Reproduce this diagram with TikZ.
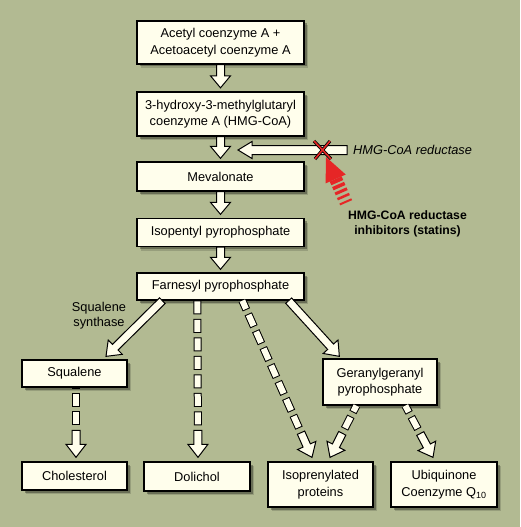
\documentclass[tikz,border=0pt]{standalone}
\usepackage{fontspec}
\setmainfont{Liberation Sans}
\usetikzlibrary{calc,shadows}
\definecolor{bg}{RGB}{178,186,146}
\definecolor{cream}{RGB}{255,254,236}
\definecolor{redarr}{RGB}{230,38,38}
\tikzset{
  box/.style={draw=black, line width=1.3pt, fill=cream, inner sep=0pt, align=center,
    font=\fontsize{12.8}{16.5}\selectfont,
    drop shadow={shadow xshift=4pt, shadow yshift=-4pt, fill=black, opacity=0.15},
    drop shadow={shadow xshift=2.5pt, shadow yshift=-2.5pt, fill=black, opacity=0.3}},
  arr/.style={draw=black, line width=1pt, fill=cream, line join=miter},
  dashout/.style={draw=black, line width=8pt, dash pattern=on 14pt off 4.5pt},
  dashin/.style={draw=cream, line width=6pt, dash pattern=on 12pt off 6.5pt, dash phase=17.5pt},
  lbl/.style={inner sep=0pt, align=center, font=\fontsize{12.8}{15}\selectfont},
}
% #1 start, #2 tip, #3 shaft half width, #4 head half width, #5 head length
\newcommand\blockarrow[5]{%
  \coordinate (hA) at ($(#2)!#5!(#1)$);
  \filldraw[arr] ($(#1)!#3!90:(#2)$) -- ($(hA)!#3!90:(#2)$) -- ($(hA)!#4!90:(#2)$) -- (#2)
    -- ($(hA)!#4!-90:(#2)$) -- ($(hA)!#3!-90:(#2)$) -- ($(#1)!#3!-90:(#2)$) -- cycle;}
% #1 start, #2 tip
\newcommand\dasharrow[2]{%
  \coordinate (hB) at ($(#2)!27pt!(#1)$);
  \coordinate (hC) at ($(#2)!32pt!(#1)$);
  \draw[dashout] (hC) -- (#1);
  \draw[dashin] (hC) -- (#1);
  \blockarrow{hB}{#2}{4pt}{10pt}{13pt}}
\begin{document}
\begin{tikzpicture}[x=1pt,y=-1pt]
\fill[bg] (0,0) rectangle (520,527);
\useasboundingbox (0,0) rectangle (520,527);

% main chain
\node[box, minimum width=167pt, minimum height=43pt] (b1) at (220.5,42.5) {Acetyl coenzyme A +\\Acetoacetyl coenzyme A};
\node[box, minimum width=167pt, minimum height=44pt] (b2) at (220.5,114) {3-hydroxy-3-methylglutaryl\\coenzyme A (HMG-CoA)};
\node[box, minimum width=167pt, minimum height=29pt] (b3) at (220.5,176.5) {Mevalonate};
\node[box, minimum width=167pt, minimum height=28pt] (b4) at (220.5,232.5) {Isopentyl pyrophosphate};
\node[box, minimum width=167pt, minimum height=27pt] (b5) at (220.5,286.5) {Farnesyl pyrophosphate};

% branches
\node[box, minimum width=105pt, minimum height=27pt] (sq) at (74.5,373.5) {Squalene};
\node[box, minimum width=114pt, minimum height=46pt] (gg) at (380,382) {Geranylgeranyl\\pyrophosphate};
\node[box, minimum width=105pt, minimum height=28pt] (chol) at (74.5,476) {Cholesterol};
\node[box, minimum width=106pt, minimum height=29pt] (dol) at (197,476.5) {Dolichol};
\node[box, minimum width=105pt, minimum height=45pt] (ip) at (320.5,484.5) {Isoprenylated\\proteins};
\node[box, minimum width=106pt, minimum height=45pt] (ubi) at (444,484.5) {Ubiquinone\\Coenzyme Q\textsubscript{10}};

% labels
\node[lbl, anchor=west, font=\fontsize{12.8}{15}\selectfont\itshape] (enz) at (353,150) {HMG-CoA reductase};
\node[lbl, font=\fontsize{12.2}{14.5}\selectfont\bfseries] (inh) at (407.5,224) {HMG-CoA reductase\\inhibitors (statins)};
\node[lbl] (ss) at (99,315.5) {Squalene\\synthase};

% vertical solid arrows
\coordinate (t2) at ($(b2.north)+(0,-3.5)$);
\coordinate (t3) at ($(b3.north)+(0,-3)$);
\coordinate (t4) at ($(b4.north)+(0,-3.5)$);
\coordinate (t5) at ($(b5.north)+(0,-3)$);
\blockarrow{b1.south}{t2}{4pt}{10pt}{12pt}
\blockarrow{b2.south}{t3}{4pt}{10pt}{12pt}
\blockarrow{b3.south}{t4}{4pt}{10pt}{12pt}
\blockarrow{b4.south}{t5}{4pt}{10pt}{12pt}

% HMG-CoA reductase arrow
\coordinate (rt) at ($(enz.west)+(-6,0)$);
\coordinate (rh) at (238,150);
\blockarrow{rt}{rh}{4.5pt}{8.5pt}{14pt}

% solid diagonal arrows
\coordinate (s1) at ($(b5.south west)+(26,0)$);
\coordinate (ts1) at ($(sq.north)+(31.5,-3)$);
\blockarrow{s1}{ts1}{4pt}{10pt}{13pt}
\coordinate (s2) at ($(b5.south east)+(-16,0)$);
\coordinate (ts2) at ($(gg.north west)+(17,-2)$);
\blockarrow{s2}{ts2}{4pt}{10pt}{13pt}

% dashed arrows
\coordinate (d1) at ($(b5.south west)+(61,0)$);
\coordinate (td1) at ($(dol.north)+(1,-4)$);
\dasharrow{d1}{td1}
\coordinate (d2) at ($(b5.south west)+(106,0)$);
\coordinate (td2) at ($(ip.north)+(-8.5,-4)$);
\dasharrow{d2}{td2}
\coordinate (d3) at ($(sq.south)+(1.5,0)$);
\coordinate (td3) at ($(chol.north)+(1.5,-4)$);
\dasharrow{d3}{td3}
\coordinate (d4) at ($(gg.south west)+(34,0)$);
\coordinate (td4) at ($(ip.north)+(9.5,-4)$);
\dasharrow{d4}{td4}
\coordinate (d5) at ($(gg.south west)+(83,0)$);
\coordinate (td5) at ($(ubi.north)+(-11,-4)$);
\dasharrow{d5}{td5}

% inhibition X
\draw[black, line width=3.2pt] (314,141) -- (331,159) (330,141) -- (315,159);
\draw[redarr, line width=1.6pt] (314,141) -- (331,159) (330,141) -- (315,159);

% red inhibitor arrow
\coordinate (rtip) at (326,157);
\coordinate (rtail) at (348,207);
\coordinate (rbase) at ($(rtip)!24pt!(rtail)$);
\fill[redarr] (rtip) -- ($(rbase)!11pt!90:(rtip)$) -- ($(rbase)!11pt!-90:(rtip)$) -- cycle;
\draw[redarr, line width=13pt, dash pattern=on 4pt off 2pt on 3.5pt off 2.5pt on 3pt off 3pt on 2.5pt off 3.5pt on 2pt off 6pt]
  (rbase) -- (rtail);
\end{tikzpicture}
\end{document}
